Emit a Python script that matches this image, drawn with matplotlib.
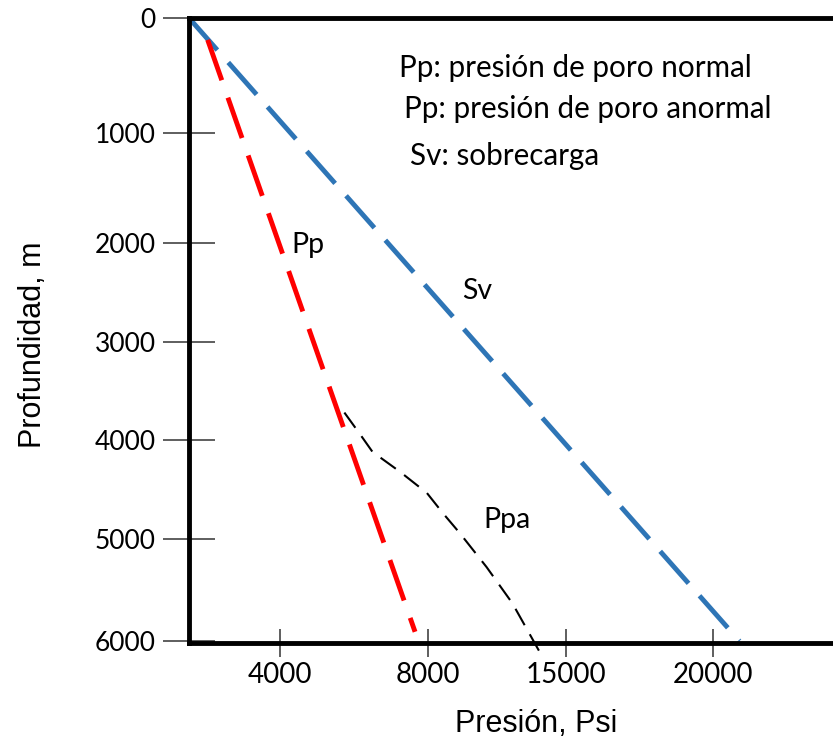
import numpy as np
import matplotlib
matplotlib.use("Agg")
import matplotlib.pyplot as plt

# depth (m) and pressure (psi)
pp_press = [820, 7650]
pp_depth = [190, 5910]

sv_press = [0, 20900]
sv_depth = [0, 6000]

ppa_press = [5740, 6180, 6500, 7240, 7970, 8760, 9610, 10970, 12280, 13700]
ppa_depth = [3720, 3950, 4120, 4320, 4535, 4740, 4940, 5275, 5630, 6120]

x_ticks = [4000, 8000, 15000, 20000]
y_ticks = [0, 1000, 2000, 3000, 4000, 5000, 6000]

# the sketch axes are not linear: calibrate each tick to its drawn spot
x_cal_val = [0, 4000, 8000, 15000, 20000]
x_cal_pos = [0, 91, 239, 377, 524]
y_cal_val = [0, 1000, 2000, 3000, 4000, 5000, 6000]
y_cal_pos = [0, 115, 225, 324, 422, 521, 623]


def piecewise(v, xp, fp):
    v = np.asarray(v, dtype=float)
    out = np.interp(v, xp, fp)
    lo = v < xp[0]
    hi = v > xp[-1]
    out[lo] = fp[0] + (v[lo] - xp[0]) * (fp[1] - fp[0]) / (xp[1] - xp[0])
    out[hi] = fp[-1] + (v[hi] - xp[-1]) * (fp[-1] - fp[-2]) / (xp[-1] - xp[-2])
    return out


W, H = 833, 746
fig = plt.figure(figsize=(W / 100, H / 100), dpi=100)
ax = fig.add_axes([189 / W, (H - 643) / H, (W - 189) / W, 625 / H])

ax.set_xscale("function", functions=(lambda v: piecewise(v, x_cal_val, x_cal_pos),
                                     lambda v: piecewise(v, x_cal_pos, x_cal_val)))
ax.set_yscale("function", functions=(lambda v: piecewise(v, y_cal_val, y_cal_pos),
                                     lambda v: piecewise(v, y_cal_pos, y_cal_val)))
ax.set_xlim(0, float(piecewise([644], x_cal_pos, x_cal_val)[0]))
ax.set_ylim(float(piecewise([625], y_cal_pos, y_cal_val)[0]), 0)

ax.plot(sv_press, sv_depth, color="#2E75B6", lw=3.5, dashes=(8.8, 3.4))
ax.plot(pp_press, pp_depth, color="#FF0000", lw=3.5, dashes=(8.8, 3.8))
ax.plot(ppa_press, ppa_depth, color="black", lw=1.5, dashes=(9, 5), clip_on=False)

for side in ["left", "top", "bottom"]:
    ax.spines[side].set_linewidth(3.5)
ax.spines["right"].set_visible(False)

tick_font = "Lato"
ax.set_xticks(x_ticks)
ax.set_xticklabels([str(t) for t in x_ticks], fontfamily=tick_font, fontsize=20)
ax.set_yticks(y_ticks)
ax.set_yticklabels([str(t) for t in y_ticks], fontfamily=tick_font, fontsize=19)
ax.minorticks_off()
ax.tick_params(axis="y", direction="inout", length=38, width=1.1, color="#333333", pad=5)
ax.tick_params(axis="x", direction="inout", length=20, width=1.1, color="#333333", pad=4)

fig.text(33 / W, 1 - 345 / H, "Profundidad, m", rotation=90, ha="center", va="center",
         fontfamily="Liberation Sans", fontsize=22)
fig.text(536 / W, 1 - 724 / H, "Presión, Psi", ha="center", va="center",
         fontfamily="Liberation Sans", fontsize=22)

ax.text(4300, 2020, "Pp", fontfamily=tick_font, fontsize=20.5, va="center")
ax.text(9725, 2480, "Sv", fontfamily=tick_font, fontsize=20.5, va="center")
ax.text(10790, 4810, "Ppa", fontfamily=tick_font, fontsize=20.5, va="center")

notes = ["Pp: presión de poro normal", "Pp: presión de poro anormal", "Sv: sobrecarga"]
note_x = [399, 404, 410]
note_y = [68, 109, 156]
for txt, nx, ny in zip(notes, note_x, note_y):
    fig.text(nx / W, 1 - ny / H, txt, fontfamily=tick_font, fontsize=21.3, va="center")

fig.savefig("out.png", dpi=100)
